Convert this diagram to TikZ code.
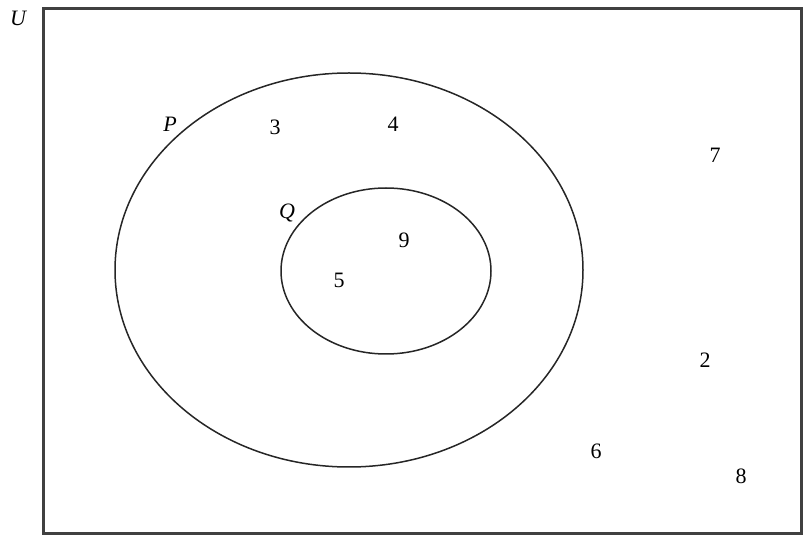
\documentclass[tikz,border=0pt]{standalone}
\usepackage{fontspec}
\setmainfont{Liberation Serif}
\tikzset{
  setlabel/.style={font=\fontsize{22}{24}\selectfont\itshape, inner sep=1pt},
  elemlabel/.style={font=\fontsize{22}{24}\selectfont, inner sep=1pt},
  setcurve/.style={line width=1.5pt, draw=black!85},
}
\begin{document}
\begin{tikzpicture}[x=1pt,y=-1pt]
  \useasboundingbox (0,0) rectangle (804,537);

  % --- Universe ---
  \draw[line width=3pt, draw=black!75] (43,9) rectangle (801,533);
  \node[setlabel] (U) at (18,18) {U};

  % --- Parameters ---
  \def\Px{349} \def\Py{270} \def\Prx{234} \def\Pry{197} % set P
  \def\Qx{386} \def\Qy{271} \def\Qrx{105} \def\Qry{83}  % set Q

  % --- Sets ---
  \draw[setcurve] (\Px,\Py) ellipse [x radius=\Prx, y radius=\Pry];
  \draw[setcurve] (\Qx,\Qy) ellipse [x radius=\Qrx, y radius=\Qry];
  \node[setlabel] (P) at (170,124) {P};
  \node[setlabel] (Q) at (287,213) {Q};

  % --- Elements ---
  \node[elemlabel] (e3) at (275,127) {3};
  \node[elemlabel] (e4) at (393,124) {4};
  \node[elemlabel] (e9) at (404,240) {9};
  \node[elemlabel] (e5) at (339,280) {5};
  \node[elemlabel] (e7) at (715,155) {7};
  \node[elemlabel] (e2) at (705,360) {2};
  \node[elemlabel] (e6) at (596,451) {6};
  \node[elemlabel] (e8) at (741,476) {8};
\end{tikzpicture}
\end{document}
